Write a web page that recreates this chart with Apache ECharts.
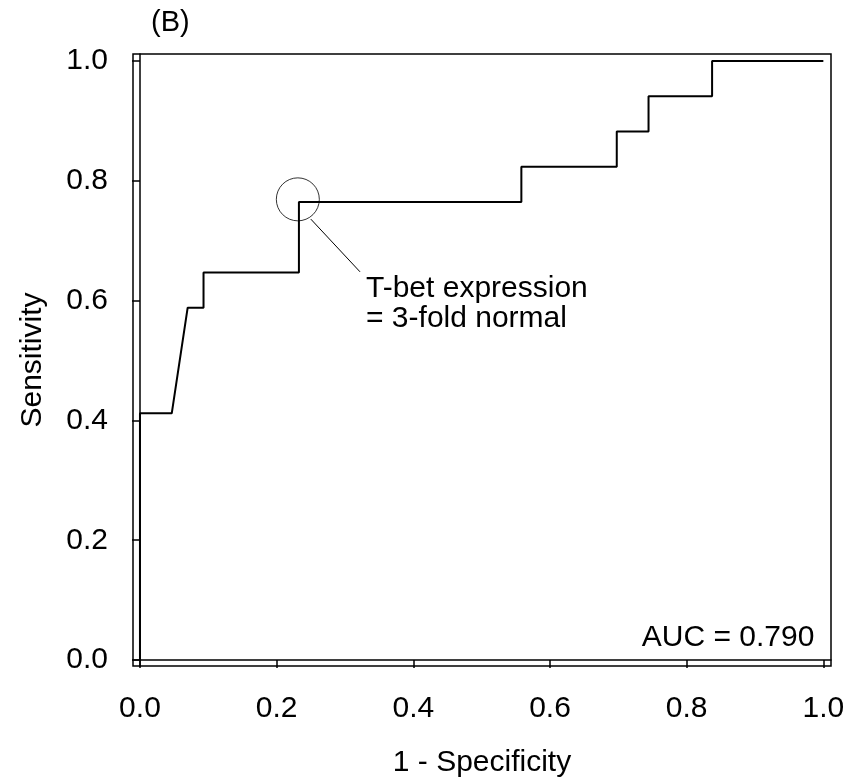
<!DOCTYPE html>
<html>
<head>
<meta charset="utf-8">
<script src="https://cdn.jsdelivr.net/npm/echarts@6/dist/echarts.min.js"></script>
<style>
  html, body { margin: 0; padding: 0; background: #fff; }
  #chart { width: 862px; height: 783px; }
</style>
</head>
<body>
<div id="chart"></div>
<script>
// ROC curve: false-positive rate (1 - specificity) vs. true-positive rate (sensitivity)
var fpr = [0, 0, 0.0465, 0.0698, 0.0930, 0.0930, 0.2326, 0.2326, 0.5581, 0.5581, 0.6977, 0.6977, 0.7442, 0.7442, 0.8372, 0.8372, 1.0];
var tpr = [0, 0.4118, 0.4118, 0.5882, 0.5882, 0.6471, 0.6471, 0.7647, 0.7647, 0.8235, 0.8235, 0.8824, 0.8824, 0.9412, 0.9412, 1.0, 1.0];

// Chosen cut-off on the curve and the leader line to its caption
var cutoffPoint = [0.231, 0.769];
var leaderStart = [0.250, 0.736];
var leaderEnd = [0.322, 0.648];

var tickValues = [0, 0.2, 0.4, 0.6, 0.8, 1.0];
var xTitle = '1 - Specificity';
var yTitle = 'Sensitivity';
var panelTag = '(B)';
var cutoffCaption = ['T-bet expression', '= 3-fold normal'];
var aucText = 'AUC = 0.790';

var FONT = '"Liberation Sans", Arial, sans-serif';
var FS = 30;

var rocData = fpr.map(function (x, i) { return [x, tpr[i]]; });

var chart = echarts.init(document.getElementById('chart'), null, { renderer: 'canvas' });

function tickLabel(v) { return Number(v).toFixed(1); }

chart.setOption({
  animation: false,
  backgroundColor: '#ffffff',
  grid: {
    left: 133, right: 31, top: 54, bottom: 113,
    show: true, borderColor: '#000', borderWidth: 1.5, backgroundColor: 'transparent'
  },
  xAxis: {
    type: 'value', min: -0.0102, max: 1.0112,
    splitLine: { show: false },
    axisLine: { show: true, lineStyle: { color: '#000', width: 1.5 } },
    axisTick: { show: true, length: 8, inside: false, customValues: tickValues, lineStyle: { color: '#000', width: 1.5 } },
    axisLabel: { customValues: tickValues, formatter: tickLabel, margin: 28, color: '#000', fontSize: FS, fontFamily: FONT },
    name: xTitle, nameLocation: 'middle', nameGap: 82,
    nameTextStyle: { color: '#000', fontSize: FS, fontFamily: FONT }
  },
  yAxis: {
    type: 'value', min: -0.0099, max: 1.0116,
    splitLine: { show: false },
    axisLine: { show: true, lineStyle: { color: '#000', width: 1.5 } },
    axisTick: { show: true, length: 8, inside: false, customValues: tickValues, lineStyle: { color: '#000', width: 1.5 } },
    axisLabel: { customValues: tickValues, formatter: tickLabel, margin: 25, color: '#000', fontSize: FS, fontFamily: FONT },
    name: yTitle, nameLocation: 'middle', nameGap: 85, nameRotate: 90,
    nameTextStyle: { color: '#000', fontSize: FS, fontFamily: FONT }
  },
  series: [
    {
      name: 'ROC', type: 'line', data: rocData, showSymbol: false, symbol: 'none',
      lineStyle: { color: '#000', width: 2 }, silent: true, z: 3
    },
    {
      name: 'cutoff', type: 'scatter', data: [cutoffPoint], symbol: 'circle', symbolSize: 43,
      itemStyle: { color: 'transparent', borderColor: '#000', borderWidth: 1 }, silent: true, z: 4
    },
    {
      name: 'leader', type: 'line', data: [leaderStart, leaderEnd], showSymbol: false, symbol: 'none',
      lineStyle: { color: '#000', width: 1 }, silent: true, z: 4
    }
  ]
});

// Text annotations anchored through the axes' own coordinate conversion
var capPos = chart.convertToPixel({ gridIndex: 0 }, leaderEnd);
var plotTopLeft = chart.convertToPixel({ gridIndex: 0 }, [0, 1]);
var aucPos = chart.convertToPixel({ gridIndex: 0 }, [1, 0]);

chart.setOption({
  graphic: [
    {
      type: 'text', silent: true,
      style: { x: plotTopLeft[0] + 11, y: 22.5, text: panelTag, fill: '#000', font: '29px ' + FONT, textAlign: 'left', textVerticalAlign: 'middle' }
    },
    {
      type: 'text', silent: true,
      style: { x: capPos[0] + 6, y: capPos[1] + 17, text: cutoffCaption[0], fill: '#000', font: FS + 'px ' + FONT, textAlign: 'left', textVerticalAlign: 'middle' }
    },
    {
      type: 'text', silent: true,
      style: { x: capPos[0] + 6, y: capPos[1] + 47, text: cutoffCaption[1], fill: '#000', font: FS + 'px ' + FONT, textAlign: 'left', textVerticalAlign: 'middle' }
    },
    {
      type: 'text', silent: true,
      style: { x: aucPos[0] - 9, y: aucPos[1] - 22, text: aucText, fill: '#000', font: FS + 'px ' + FONT, textAlign: 'right', textVerticalAlign: 'middle' }
    }
  ]
});
</script>
</body>
</html>
